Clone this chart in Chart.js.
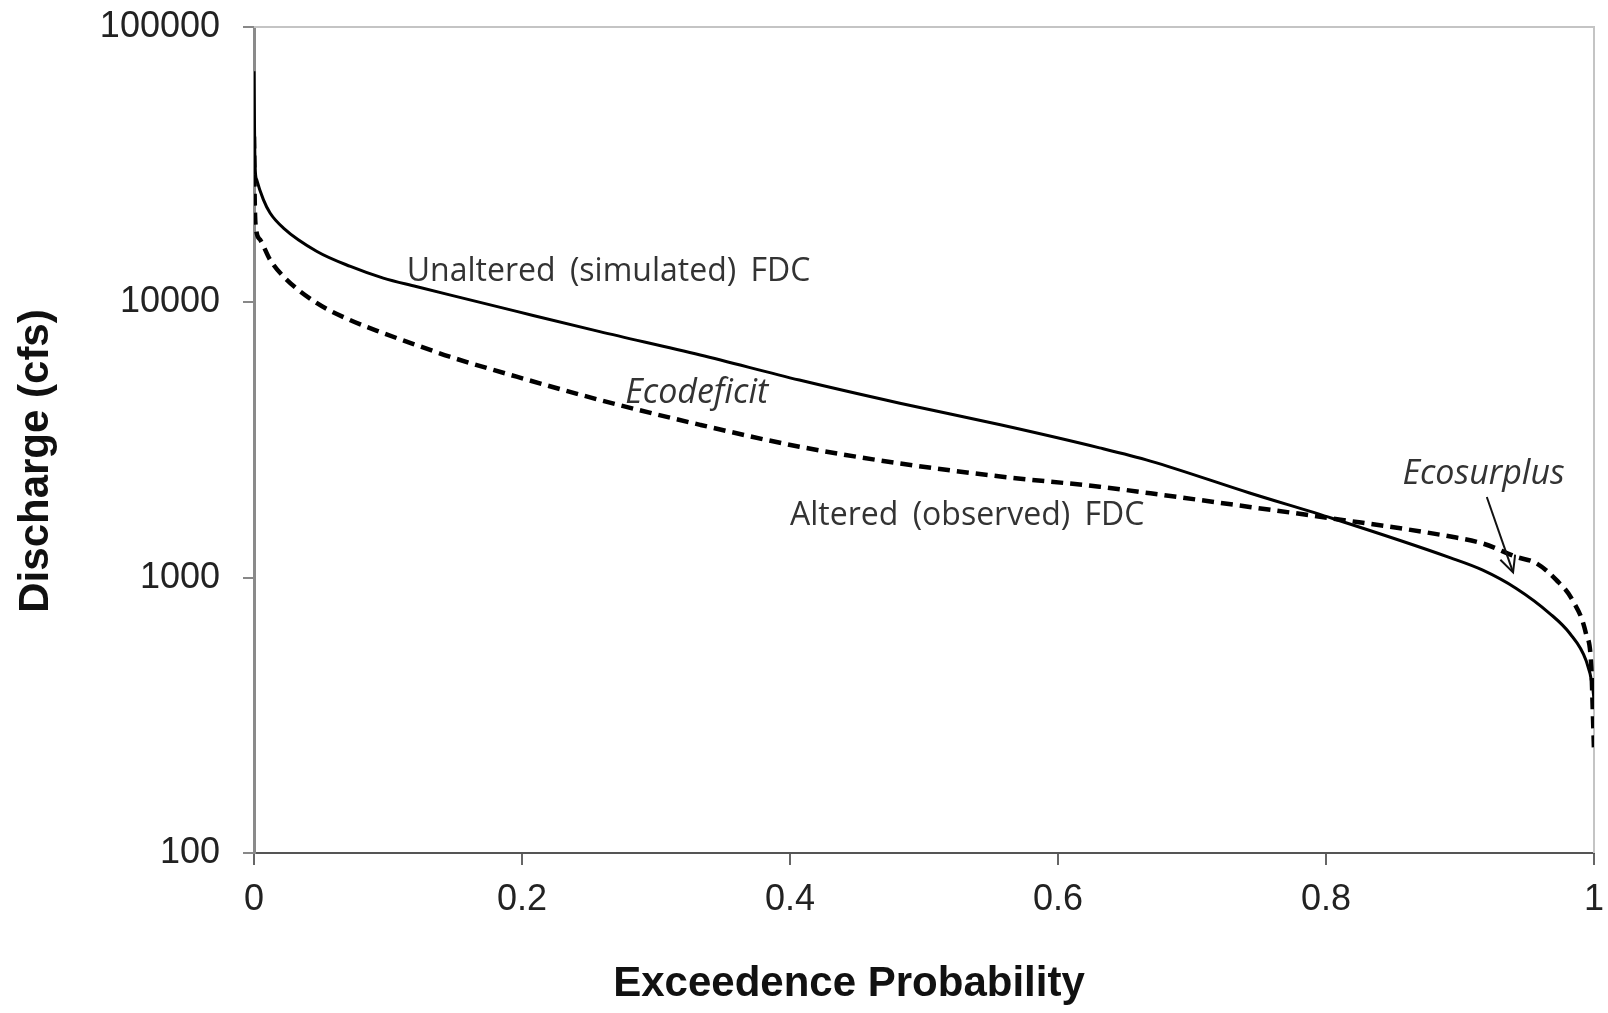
<!DOCTYPE html>
<html>
<head>
<meta charset="utf-8">
<script src="https://cdn.jsdelivr.net/npm/chart.js@4.4.1/dist/chart.umd.min.js"></script>
<style>
html,body{margin:0;padding:0;background:#fff;}
#wrap{width:1608px;height:1013px;}
</style>
</head>
<body>
<div id="wrap"><canvas id="c" width="1608" height="1013"></canvas></div>
<script>
// ---- data ----
const probUnaltered = [0, 0.0005, 0.001, 0.002, 0.007, 0.012, 0.022, 0.047, 0.072, 0.0965, 0.121, 0.146, 0.196, 0.258, 0.333, 0.407, 0.482, 0.557, 0.631, 0.669, 0.743, 0.805, 0.893, 0.917, 0.942, 0.967, 0.982, 0.994, 0.999, 1.0];
const flowUnaltered = [69000, 38000, 30000, 27900, 23600, 21100, 18600, 15300, 13500, 12240, 11410, 10640, 9270, 7830, 6440, 5220, 4300, 3590, 2960, 2650, 2030, 1640, 1180, 1065, 914, 741, 627, 501, 401, 360];
const probAltered = [0, 0.0005, 0.0012, 0.0045, 0.012, 0.022, 0.047, 0.072, 0.0965, 0.121, 0.146, 0.196, 0.258, 0.333, 0.407, 0.482, 0.557, 0.631, 0.669, 0.743, 0.805, 0.893, 0.917, 0.942, 0.957, 0.972, 0.984, 0.994, 0.998, 0.999, 1.0];
const flowAltered = [40000, 24000, 19000, 16900, 14280, 12410, 9930, 8610, 7730, 7000, 6350, 5370, 4420, 3590, 2990, 2600, 2330, 2140, 2025, 1807, 1640, 1410, 1331, 1190, 1128, 980, 828, 627, 474, 339, 236];
const xTickValues = [0, 0.2, 0.4, 0.6, 0.8, 1];
const yTickValues = [100, 1000, 10000, 100000];
const seriesNames = ["Unaltered (simulated) FDC", "Altered (observed) FDC"];
const xTitle = "Exceedence Probability";
const yTitle = "Discharge (cfs)";

// annotation texts (anchored in data space)
const notes = [
  {text: "Unaltered (simulated) FDC", x: 0.114, y: 12900, italic: false},
  {text: "Ecodeficit", x: 0.277, y: 4690, italic: true},
  {text: "Altered (observed) FDC", x: 0.400, y: 1675, italic: false},
  {text: "Ecosurplus", x: 0.857, y: 2377, italic: true}
];
const arrowFrom = {x: 0.920, y: 1963};
const arrowTo = {x: 0.9396, y: 1045};

function toPts(xs, ys){ return xs.map((x,i)=>({x:x, y:ys[i]})); }

const annotPlugin = {
  id: 'annot',
  beforeDatasetsDraw(chart){
    const a = chart.chartArea, ctx = chart.ctx;
    ctx.save();
    ctx.strokeStyle = '#c4c4c4';
    ctx.lineWidth = 2;
    ctx.beginPath();
    ctx.moveTo(a.left, a.top); ctx.lineTo(a.right, a.top); ctx.lineTo(a.right, a.bottom);
    ctx.stroke();
    ctx.restore();
  },
  afterDatasetsDraw(chart){
    const ctx = chart.ctx, xs = chart.scales.x, ys = chart.scales.y;
    ctx.save();
    ctx.fillStyle = '#333';
    ctx.textBaseline = 'middle';
    ctx.textAlign = 'left';
    notes.forEach(n=>{
      if (n.italic) {
        ctx.font = 'italic 34px "Open Sans", sans-serif';
        ctx.wordSpacing = '0px';
      } else {
        ctx.font = '32px "Open Sans", sans-serif';
        ctx.wordSpacing = '6px';
      }
      ctx.fillText(n.text, xs.getPixelForValue(n.x), ys.getPixelForValue(n.y));
    });
    ctx.wordSpacing = '0px';
    // arrow
    const x1 = xs.getPixelForValue(arrowFrom.x), y1 = ys.getPixelForValue(arrowFrom.y);
    const x2 = xs.getPixelForValue(arrowTo.x), y2 = ys.getPixelForValue(arrowTo.y);
    ctx.strokeStyle = '#111';
    ctx.lineWidth = 2;
    ctx.beginPath(); ctx.moveTo(x1,y1); ctx.lineTo(x2,y2); ctx.stroke();
    const ang = Math.atan2(y2-y1, x2-x1), L = 18, w = 0.45;
    ctx.beginPath();
    ctx.moveTo(x2 - L*Math.cos(ang-w), y2 - L*Math.sin(ang-w));
    ctx.lineTo(x2, y2);
    ctx.lineTo(x2 - L*Math.cos(ang+w), y2 - L*Math.sin(ang+w));
    ctx.stroke();

    // axis titles
    ctx.fillStyle = '#111';
    ctx.font = 'bold 42px "Liberation Sans", Arial, sans-serif';
    ctx.textAlign = 'center';
    ctx.textBaseline = 'middle';
    ctx.fillText(xTitle, 849, 984);
    ctx.translate(36, 461);
    ctx.rotate(-Math.PI/2);
    ctx.fillText(yTitle, 0, 0);
    ctx.restore();
  }
};

new Chart(document.getElementById('c'), {
  type: 'scatter',
  data: {
    datasets: [
      {label: seriesNames[0], data: toPts(probUnaltered, flowUnaltered), showLine: true,
       borderColor: '#000', borderWidth: 3, pointRadius: 0, cubicInterpolationMode: 'monotone', fill: false},
      {label: seriesNames[1], data: toPts(probAltered, flowAltered), showLine: true,
       borderColor: '#000', borderWidth: 4.5, borderDash: [12, 7], pointRadius: 0, cubicInterpolationMode: 'monotone', fill: false}
    ]
  },
  options: {
    responsive: false,
    animation: false,
    devicePixelRatio: 1,
    layout: {padding: {top: 27, right: 14, bottom: 0, left: 0}},
    plugins: {legend: {display: false}, tooltip: {enabled: false}},
    scales: {
      x: {
        type: 'linear', min: 0, max: 1,
        afterBuildTicks: s => { s.ticks = xTickValues.map(v=>({value:v})); },
        afterFit: s => { s.height = 160; s.paddingLeft = 0; s.paddingRight = 0; },
        ticks: {color: '#222', padding: 13, font: {family: '"Liberation Sans", Arial, sans-serif', size: 36},
                callback: v => String(v), maxRotation: 0, autoSkip: false},
        grid: {display: true, drawOnChartArea: false, drawTicks: true, tickLength: 12, color: '#666', lineWidth: 2},
        border: {display: true, color: '#555', width: 2},
        title: {display: false, text: xTitle}
      },
      y: {
        type: 'logarithmic', min: 100, max: 100000,
        afterBuildTicks: s => { s.ticks = yTickValues.map(v=>({value:v})); },
        afterFit: s => { s.width = 254; s.paddingTop = 0; s.paddingBottom = 0; },
        ticks: {color: '#222', padding: 23, font: {family: '"Liberation Sans", Arial, sans-serif', size: 36},
                callback: v => String(v), autoSkip: false},
        grid: {display: true, drawOnChartArea: false, drawTicks: true, tickLength: 11, color: '#888', lineWidth: 2},
        border: {display: true, color: '#8a8a8a', width: 3},
        title: {display: false, text: yTitle}
      }
    }
  },
  plugins: [annotPlugin]
});
</script>
</body>
</html>
